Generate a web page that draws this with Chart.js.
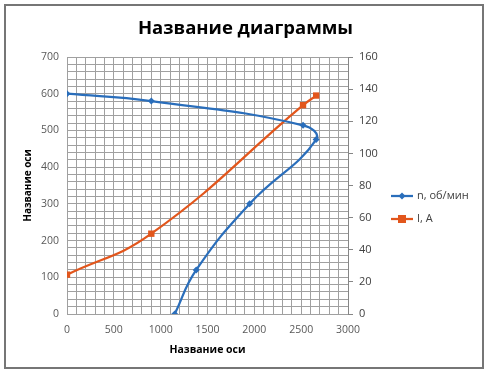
<!DOCTYPE html>
<html>
<head>
<meta charset="utf-8">
<script src="https://cdn.jsdelivr.net/npm/chart.js@4/dist/chart.umd.min.js"></script>
<style>
  html, body { margin: 0; padding: 0; background: #fff; }
  #wrap { position: relative; width: 491px; height: 377px; }
  #frame { position: absolute; left: 4px; top: 4px; width: 476px; height: 361px; border: 2px solid #767676; pointer-events: none; }
  canvas { position: absolute; left: 0; top: 0; }
</style>
</head>
<body>
<div id="wrap">
  <canvas id="chart" width="491" height="377"></canvas>
  <div id="frame"></div>
</div>
<script>
// n, об/мин (left axis)
const speedX = [0, 900, 2520, 2660, 1950, 1380, 1150];
const speedY = [600, 580, 514, 475, 300, 120, 0];

// I, A (right axis)
const currentX = [0, 900, 2520, 2660];
const currentY = [24.5, 50, 130, 136];

const seriesNames = ["n, об/мин", "I, A"];
const chartTitle = "Название диаграммы";
const axisTitle = "Название оси";

const FONT = "'Open Sans', sans-serif";
const blue = "#2a6ebb";
const orange = "#e2561c";
const gridColor = "#a0a0a0";

const toPoints = (xs, ys) => xs.map((x, i) => ({ x: x, y: ys[i] }));

// legend drawn as line + marker like in the office chart
const lineLegend = {
    id: "lineLegend",
    afterDraw(chart) {
        const ctx = chart.ctx;
        const area = chart.chartArea;
        const x0 = area.right + 43;
        let y = area.top + 139;
        chart.data.datasets.forEach((ds) => {
            ctx.save();
            ctx.strokeStyle = ds.borderColor;
            ctx.lineWidth = 2.25;
            ctx.beginPath();
            ctx.moveTo(x0, y);
            ctx.lineTo(x0 + 22, y);
            ctx.stroke();
            ctx.fillStyle = ds.pointBackgroundColor;
            const cx = x0 + 11;
            if (ds.pointStyle === "rect") {
                ctx.fillRect(cx - 4, y - 4, 8, 8);
            } else {
                ctx.beginPath();
                ctx.moveTo(cx, y - 3.5);
                ctx.lineTo(cx + 3.5, y);
                ctx.lineTo(cx, y + 3.5);
                ctx.lineTo(cx - 3.5, y);
                ctx.closePath();
                ctx.fill();
            }
            ctx.fillStyle = "#404040";
            ctx.font = "11px " + FONT;
            ctx.textBaseline = "middle";
            ctx.fillText(ds.label, x0 + 26, y);
            ctx.restore();
            y += 23;
        });
    }
};

const ctx = document.getElementById("chart").getContext("2d");
new Chart(ctx, {
    type: "scatter",
    data: {
        datasets: [{
            label: seriesNames[0],
            data: toPoints(speedX, speedY),
            yAxisID: "y",
            showLine: true,
            tension: 0.45,
            borderColor: blue,
            backgroundColor: blue,
            pointBackgroundColor: blue,
            pointBorderColor: blue,
            borderWidth: 2.25,
            pointStyle: "rectRot",
            pointRadius: 3.5,
            pointBorderWidth: 0,
        }, {
            label: seriesNames[1],
            data: toPoints(currentX, currentY),
            yAxisID: "y1",
            showLine: true,
            tension: 0.45,
            borderColor: orange,
            backgroundColor: orange,
            pointBackgroundColor: orange,
            pointBorderColor: orange,
            borderWidth: 2.25,
            pointStyle: "rect",
            pointRadius: 4.5,
            pointBorderWidth: 0,
        }]
    },
    options: {
        responsive: false,
        animation: false,
        layout: { padding: { left: 0, right: 0, top: 0, bottom: 12 } },
        plugins: {
            legend: { display: false },
            tooltip: { enabled: false },
            title: {
                display: true,
                text: chartTitle,
                color: "#000",
                font: { family: FONT, size: 18.5, weight: "bold" },
                padding: { top: 18, bottom: 16.8 },
            },
        },
        scales: {
            x: {
                type: "linear",
                min: 0,
                max: 3000,
                afterFit: (s) => { s.height = 51; },
                ticks: {
                    stepSize: 100,
                    autoSkip: false,
                    maxRotation: 0,
                    color: "#595959",
                    font: { family: FONT, size: 10.5 },
                    padding: 10,
                    callback: (v) => (v % 500 === 0 ? v : ""),
                },
                grid: { color: gridColor, drawTicks: false },
                border: { color: gridColor },
                title: {
                    display: true,
                    text: axisTitle,
                    color: "#000",
                    font: { family: FONT, size: 10.5, weight: "bold" },
                    padding: { top: 4, bottom: 9 },
                },
            },
            y: {
                type: "linear",
                position: "left",
                min: 0,
                max: 700,
                afterFit: (s) => { s.width = 67; },
                ticks: {
                    stepSize: 20,
                    autoSkip: false,
                    color: "#595959",
                    font: { family: FONT, size: 10.5 },
                    padding: 8,
                    callback: (v) => (v % 100 === 0 ? v : ""),
                },
                grid: { color: gridColor, drawTicks: false },
                border: { color: gridColor },
                title: {
                    display: true,
                    text: axisTitle,
                    color: "#000",
                    font: { family: FONT, size: 10, weight: "bold" },
                    padding: { top: 22, bottom: 0 },
                },
            },
            y1: {
                type: "linear",
                position: "right",
                min: 0,
                max: 160,
                afterFit: (s) => { s.width = 143; },
                ticks: {
                    stepSize: 20,
                    color: "#404040",
                    font: { family: FONT, size: 11 },
                    padding: 6,
                },
                grid: { drawOnChartArea: false, drawTicks: true, tickLength: 5, color: "#868686" },
                border: { color: "#868686" },
            },
        },
    },
    plugins: [lineLegend],
});
</script>
</body>
</html>
